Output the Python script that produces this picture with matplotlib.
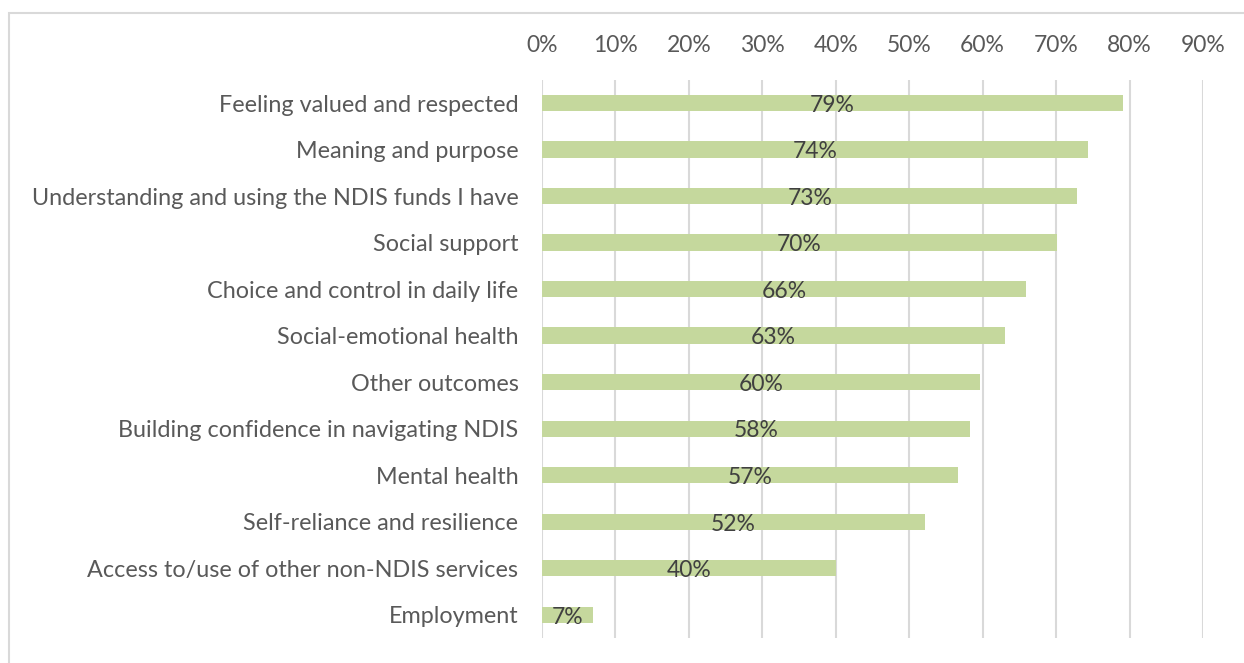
import matplotlib.pyplot as plt
from matplotlib.patches import Rectangle
from matplotlib.ticker import FuncFormatter

categories = [
    'Feeling valued and respected',
    'Meaning and purpose',
    'Understanding and using the NDIS funds I have',
    'Social support',
    'Choice and control in daily life',
    'Social-emotional health',
    'Other outcomes',
    'Building confidence in navigating NDIS',
    'Mental health',
    'Self-reliance and resilience',
    'Access to/use of other non-NDIS services',
    'Employment',
]
values = [79.1, 74.4, 72.9, 70.1, 65.9, 63.0, 59.6, 58.3, 56.6, 52.1, 40.0, 6.9]
x_ticks = [0, 10, 20, 30, 40, 50, 60, 70, 80, 90]

plt.rcParams['font.family'] = ['Lato', 'DejaVu Sans']

fig = plt.figure(figsize=(12.44, 6.63), dpi=100)
ax = fig.add_axes([542 / 1244, 1 - 638 / 663, 661 / 1244, 558.25 / 663])

# light border round the chart area
fig.patches.append(Rectangle((9 / 1244, -0.2), 1.2, 1.2 - 13 / 663, transform=fig.transFigure,
                             fill=False, edgecolor='#d9d9d9', linewidth=1.5))

ypos = list(range(len(categories)))
ax.barh(ypos, values, height=0.35, color='#c5d89d', zorder=2)
for y, v in zip(ypos, values):
    ax.text(v / 2, y + 0.05, f'{round(v)}%', ha='center', va='center',
            fontsize=16.5, color='#404040', zorder=3)

ax.set_xlim(0, 90)
ax.set_ylim(len(categories) - 0.5, -0.5)
ax.set_xticks(x_ticks)
ax.xaxis.set_major_formatter(FuncFormatter(lambda x, _: f'{x:.0f}%'))
ax.xaxis.tick_top()
ax.set_yticks(ypos)
ax.set_yticklabels(categories)
ax.tick_params(axis='x', length=0, pad=17, labelsize=16.5, labelcolor='#595959')
ax.tick_params(axis='y', length=0, pad=17, labelsize=16.8, labelcolor='#595959')
ax.grid(axis='x', color='#d9d9d9', linewidth=1.5, zorder=0)
ax.set_axisbelow(True)
for s in ax.spines.values():
    s.set_visible(False)

fig.savefig('out.png', dpi=100)
